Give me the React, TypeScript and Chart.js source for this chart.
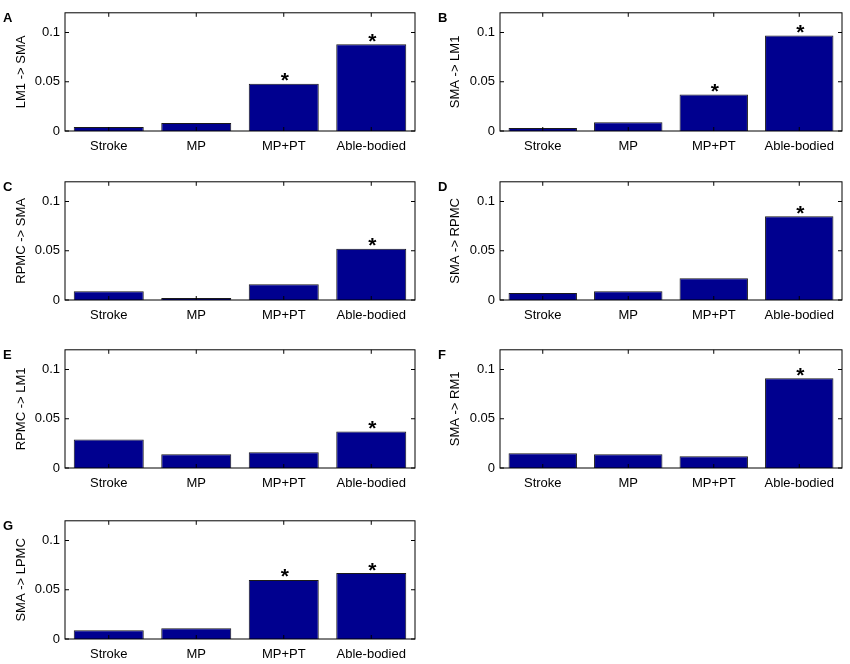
import React, { useEffect, useRef } from 'react';
import { Chart, registerables } from 'chart.js';

Chart.register(...registerables);

Chart.defaults.font.family = '"Liberation Sans", Arial, Helvetica, sans-serif';
Chart.defaults.color = '#000';

// groups along the x axis
const categories = ['Stroke', 'MP', 'MP+PT', 'Able-bodied'];
const yTicks = [0, 0.05, 0.1];
const yMax = 0.12;

// connection strengths per panel
const lm1ToSma = [0.004, 0.008, 0.048, 0.088];
const smaToLm1 = [0.003, 0.009, 0.037, 0.097];
const rpmcToSma = [0.009, 0.002, 0.016, 0.052];
const smaToRpmc = [0.007, 0.009, 0.022, 0.085];
const rpmcToLm1 = [0.029, 0.014, 0.016, 0.037];
const smaToRm1 = [0.015, 0.014, 0.012, 0.091];
const smaToLpmc = [0.009, 0.011, 0.06, 0.067];

// significance markers
const starsA = [false, false, true, true];
const starsB = [false, false, true, true];
const starsC = [false, false, false, true];
const starsD = [false, false, false, true];
const starsE = [false, false, false, true];
const starsF = [false, false, false, true];
const starsG = [false, false, true, true];

const panels = [
  { letter: 'A', label: 'LM1 -> SMA', values: lm1ToSma, stars: starsA, col: 0, row: 0 },
  { letter: 'B', label: 'SMA -> LM1', values: smaToLm1, stars: starsB, col: 1, row: 0 },
  { letter: 'C', label: 'RPMC -> SMA', values: rpmcToSma, stars: starsC, col: 0, row: 1 },
  { letter: 'D', label: 'SMA -> RPMC', values: smaToRpmc, stars: starsD, col: 1, row: 1 },
  { letter: 'E', label: 'RPMC -> LM1', values: rpmcToLm1, stars: starsE, col: 0, row: 2 },
  { letter: 'F', label: 'SMA -> RM1', values: smaToRm1, stars: starsF, col: 1, row: 2 },
  { letter: 'G', label: 'SMA -> LPMC', values: smaToLpmc, stars: starsG, col: 0, row: 3 },
];

// layout
const colLeft = [0, 425];
const rowTop = [0, 169, 337, 508];
const yAxisWidth = [65, 75];
const padRight = [10, 8];
const titlePad = [14, 23];
const letterX = [3, 13];
const CANVAS_W = 425;
const CANVAS_H = 160;

// box, inward ticks, asterisks and panel letter (MATLAB look)
const panelDecor = {
  id: 'panelDecor',
  afterDatasetsDraw(chart: any, _args: any, opts: any) {
    const { ctx, chartArea, scales } = chart;
    const { left, right, top, bottom } = chartArea;
    const x = scales.x;
    const y = scales.y;
    ctx.save();
    ctx.strokeStyle = '#000';
    ctx.lineWidth = 1;
    ctx.strokeRect(left, top, right - left, bottom - top);

    ctx.beginPath();
    yTicks.forEach((v) => {
      const py = y.getPixelForValue(v);
      ctx.moveTo(left, py);
      ctx.lineTo(left + 4, py);
      ctx.moveTo(right, py);
      ctx.lineTo(right - 4, py);
    });
    categories.forEach((_c, i) => {
      const px = x.getPixelForValue(i);
      ctx.moveTo(px, top);
      ctx.lineTo(px, top + 4);
      ctx.moveTo(px, bottom);
      ctx.lineTo(px, bottom - 4);
    });
    ctx.stroke();

    // asterisks
    const meta = chart.getDatasetMeta(0);
    ctx.fillStyle = '#000';
    ctx.font = 'bold 21px "Liberation Sans", Arial, sans-serif';
    ctx.textAlign = 'center';
    ctx.textBaseline = 'alphabetic';
    opts.stars.forEach((s: boolean, i: number) => {
      if (!s) return;
      const bar = meta.data[i];
      ctx.fillText('*', bar.x + 1, bar.y + 3.5);
    });

    // panel letter
    ctx.font = 'bold 13px "Liberation Sans", Arial, sans-serif';
    ctx.textAlign = 'left';
    ctx.fillText(opts.letter, opts.letterX, top + 9);
    ctx.restore();
  },
};

function Panel({ panel }: { panel: (typeof panels)[number] }) {
  const chartRef = useRef<HTMLCanvasElement | null>(null);

  useEffect(() => {
    if (!chartRef.current) return;
    const c = panel.col;
    const chart = new Chart(chartRef.current, {
      type: 'bar',
      data: {
        labels: categories,
        datasets: [
          {
            data: panel.values,
            backgroundColor: '#00008f',
            borderColor: '#1a1a1a',
            borderWidth: 1,
            categoryPercentage: 1,
            barPercentage: 0.8,
          },
        ],
      },
      options: {
        responsive: false,
        animation: false,
        layout: { padding: { top: 9, left: 0, right: padRight[c], bottom: 4 } },
        plugins: {
          legend: { display: false },
          tooltip: { enabled: false },
          panelDecor: { stars: panel.stars, letter: panel.letter, letterX: letterX[c] },
        } as any,
        scales: {
          x: {
            grid: { display: false, drawTicks: false },
            border: { display: false },
            ticks: { font: { size: 13 }, padding: 8, maxRotation: 0, autoSkip: false },
            afterFit: (scale: any) => {
              scale.height = 25;
            },
          },
          y: {
            min: 0,
            max: yMax,
            grid: { display: false, drawTicks: false },
            border: { display: false },
            afterBuildTicks: (scale: any) => {
              scale.ticks = yTicks.map((v) => ({ value: v }));
            },
            ticks: {
              font: { size: 13 },
              padding: 5,
              callback: (v: any) => String(Number(v)),
            },
            title: {
              display: true,
              text: panel.label,
              font: { size: 13 },
              padding: { top: titlePad[c], bottom: 0 },
            },
            afterFit: (scale: any) => {
              scale.width = yAxisWidth[c];
            },
          },
        },
      },
      plugins: [panelDecor],
    });
    return () => chart.destroy();
  }, [panel]);

  return (
    <canvas
      ref={chartRef}
      width={CANVAS_W}
      height={CANVAS_H}
      style={{
        position: 'absolute',
        left: colLeft[panel.col],
        top: rowTop[panel.row],
        width: CANVAS_W,
        height: CANVAS_H,
      }}
    />
  );
}

export default function App() {
  return (
    <div
      style={{
        position: 'absolute',
        left: 0,
        top: 0,
        width: 850,
        height: 664,
        overflow: 'hidden',
        background: '#fff',
      }}
    >
      {panels.map((p) => (
        <Panel key={p.letter} panel={p} />
      ))}
    </div>
  );
}
